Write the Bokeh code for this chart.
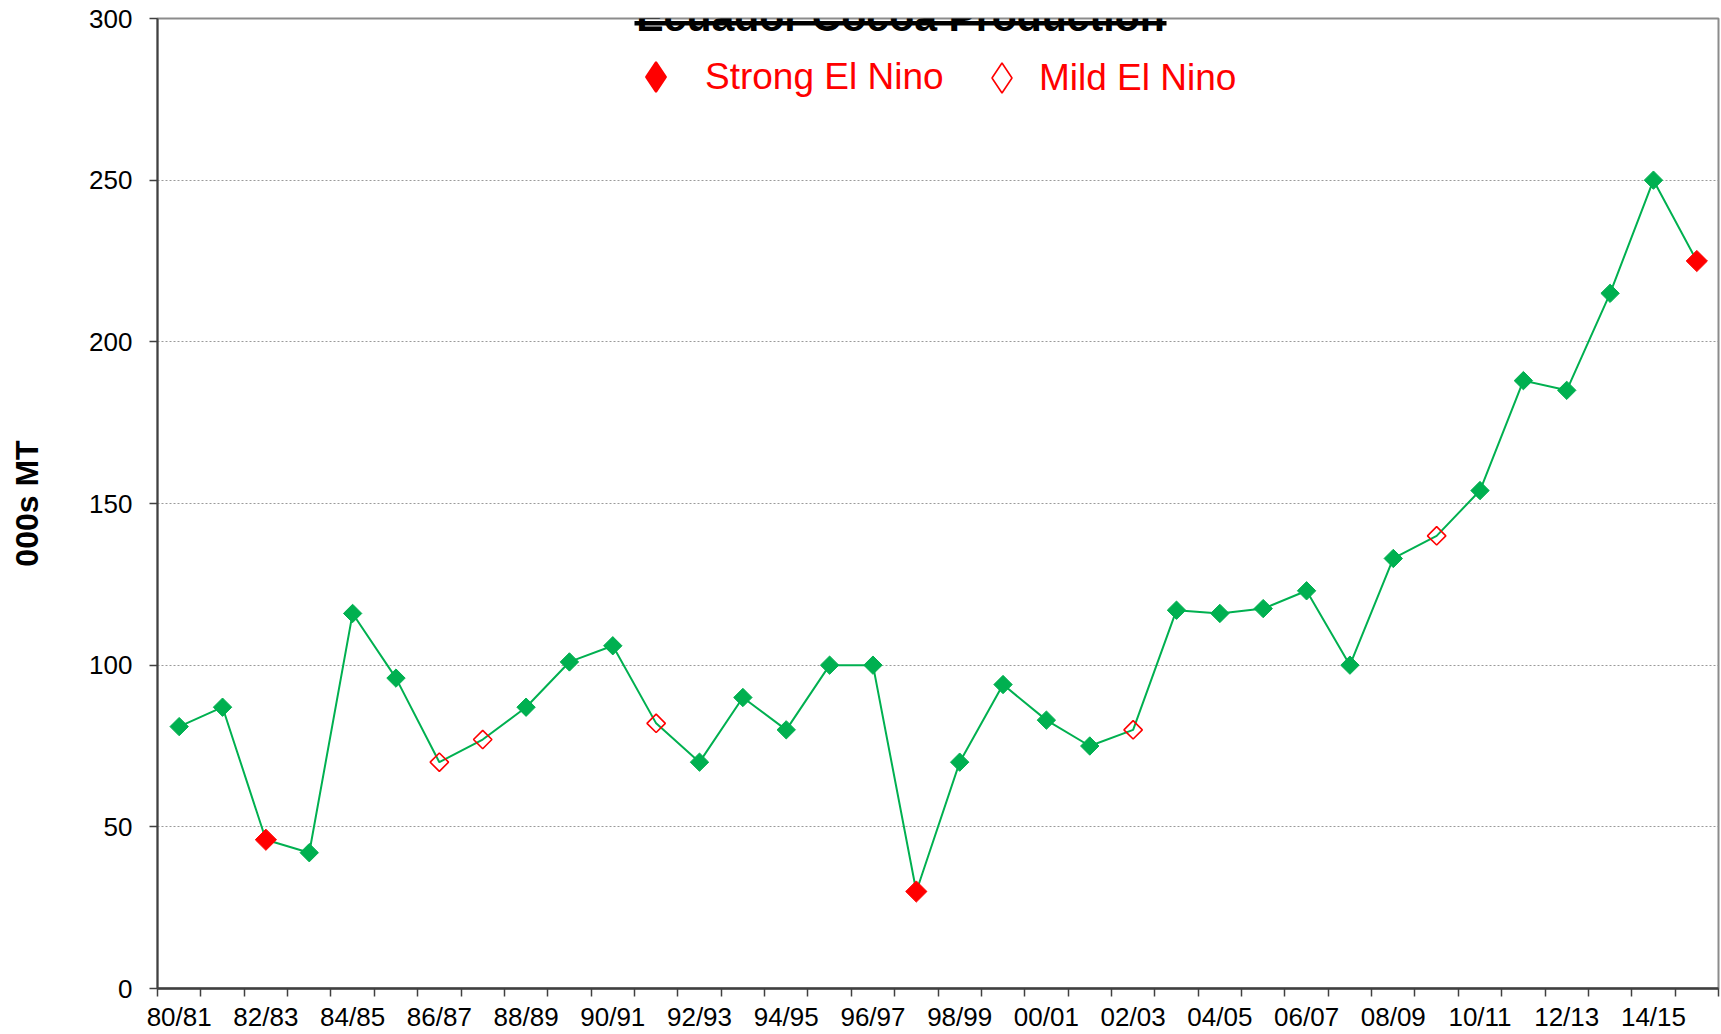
import math
import numpy as np
from bokeh.plotting import figure
from bokeh.models import (Range1d, FixedTicker, Label, BoxAnnotation, Legend,
                          LegendItem, ColumnDataSource)
from bokeh.embed import file_html
from bokeh.resources import INLINE

# ---------------- data ----------------
seasons = ["80/81", "81/82", "82/83", "83/84", "84/85", "85/86", "86/87", "87/88",
           "88/89", "89/90", "90/91", "91/92", "92/93", "93/94", "94/95", "95/96",
           "96/97", "97/98", "98/99", "99/00", "00/01", "01/02", "02/03", "03/04",
           "04/05", "05/06", "06/07", "07/08", "08/09", "09/10", "10/11", "11/12",
           "12/13", "13/14", "14/15", "15/16"]
production = [81, 87, 46, 42, 116, 96, 70, 77, 87, 101, 106, 82, 70, 90, 80, 100,
              100, 30, 70, 94, 83, 75, 80, 117, 116, 117.5, 123, 100, 133, 140, 154, 188,
              185, 215, 250, 225]
strong_el_nino = ["82/83", "97/98", "15/16"]
mild_el_nino = ["86/87", "87/88", "91/92", "02/03", "09/10"]
y_ticks = [0, 50, 100, 150, 200, 250, 300]
tick_seasons = seasons[::2]

title_text = "Ecuador Cocoa Production"
y_label = "000s MT"
legend_labels = ["Strong El Nino", "Mild El Nino"]

GREEN = "#00B050"
RED = "#FF0000"
FONT = "Liberation Sans"

# ---------------- derived positions ----------------
pos = {s: i for i, s in enumerate(seasons)}
xs = [pos[s] for s in seasons]
normal = [s for s in seasons if s not in strong_el_nino and s not in mild_el_nino]

src_all = ColumnDataSource(dict(x=xs, y=production))
src_norm = ColumnDataSource(dict(x=[pos[s] for s in normal],
                                 y=[production[pos[s]] for s in normal]))
src_strong = ColumnDataSource(dict(x=[pos[s] for s in strong_el_nino],
                                   y=[production[pos[s]] for s in strong_el_nino]))
src_mild = ColumnDataSource(dict(x=[pos[s] for s in mild_el_nino],
                                 y=[production[pos[s]] for s in mild_el_nino]))

p = figure(width=1720, height=1034, output_backend="svg", toolbar_location=None,
           x_range=Range1d(-0.5, len(seasons) - 0.5), y_range=Range1d(0, 300),
           min_border_left=157, min_border_right=2, min_border_top=18,
           min_border_bottom=46)
p.background_fill_color = "white"
p.border_fill_color = "white"
p.outline_line_color = "#8c8c8c"
p.outline_line_width = 2

p.line("x", "y", source=src_all, line_color=GREEN, line_width=2)
p.scatter("x", "y", source=src_norm, marker="square", angle=math.pi / 4, size=13,
          fill_color=GREEN, line_color=GREEN)
p.scatter("x", "y", source=src_strong, marker="square", angle=math.pi / 4,
          size=15, fill_color=RED, line_color=RED)
p.scatter("x", "y", source=src_mild, marker="square", angle=math.pi / 4,
          size=13, fill_alpha=0, line_color=RED, line_width=1.6)

# legend-only diamond glyphs (no visible points in the plot)
lg_src = ColumnDataSource(dict(x=np.array([np.nan]), y=np.array([np.nan])))
lg_strong = p.scatter("x", "y", source=lg_src, marker="diamond",
                      fill_color=RED, line_color=RED, line_width=2)
lg_mild = p.scatter("x", "y", source=lg_src, marker="diamond",
                    fill_alpha=0, line_color=RED, line_width=1.6)

common = dict(orientation="horizontal", glyph_width=75, glyph_height=75,
              padding=0, margin=0, border_line_alpha=0, background_fill_alpha=0,
              label_text_font_size="37px", label_text_color=RED,
              label_text_font=FONT)
p.add_layout(Legend(items=[LegendItem(label=legend_labels[0], renderers=[lg_strong])],
                    location=(461, 874), label_standoff=12, **common))
p.add_layout(Legend(items=[LegendItem(label=legend_labels[1], renderers=[lg_mild])],
                    location=(807, 873), label_standoff=0, **common))

# ---------------- axes ----------------
ya = p.yaxis[0]
ya.ticker = FixedTicker(ticks=y_ticks, minor_ticks=[])
ya.major_tick_out = 8
ya.major_tick_in = 0
ya.minor_tick_out = 0
ya.axis_line_color = "#404040"
ya.axis_line_width = 2
ya.major_tick_line_color = "#404040"
ya.major_tick_line_width = 1.5
ya.major_label_text_font = FONT
ya.major_label_text_font_size = "26px"
ya.major_label_text_color = "black"
ya.major_label_standoff = 17
ya.axis_label = y_label
ya.axis_label_text_font = FONT
ya.axis_label_text_font_size = "32px"
ya.axis_label_text_font_style = "bold"
ya.axis_label_text_color = "black"
ya.axis_label_standoff = 41

xa = p.xaxis[0]
xa.ticker = FixedTicker(ticks=[pos[s] for s in tick_seasons],
                        minor_ticks=[i - 0.5 for i in range(len(seasons) + 1)])
xa.major_label_overrides = {pos[s]: s for s in tick_seasons}
xa.major_tick_out = 0
xa.major_tick_in = 0
xa.minor_tick_out = 8
xa.minor_tick_in = 0
xa.minor_tick_line_color = "#404040"
xa.minor_tick_line_width = 1.5
xa.axis_line_color = "#404040"
xa.axis_line_width = 2.5
xa.major_label_text_font = FONT
xa.major_label_text_font_size = "26px"
xa.major_label_text_color = "black"
xa.major_label_text_line_height = 1.0
xa.major_label_standoff = 5

p.xgrid.visible = False
p.ygrid.grid_line_color = "#9a9a9a"
p.ygrid.grid_line_dash = "2 2"
p.ygrid.grid_line_width = 1

# ---------------- title (cut off at top, underlined) ----------------
p.add_layout(Label(x=743, y=972, x_units="screen", y_units="screen", text=title_text,
                   text_align="center", text_baseline="alphabetic",
                   text_font=FONT, text_font_size="41px", text_font_style="bold",
                   text_color="black"))
p.add_layout(BoxAnnotation(left=477, right=1009, bottom=963, top=967.5,
                           left_units="screen", right_units="screen",
                           bottom_units="screen", top_units="screen",
                           fill_color="black", fill_alpha=1, line_alpha=0))

open("out.html", "w").write(file_html(p, INLINE))
